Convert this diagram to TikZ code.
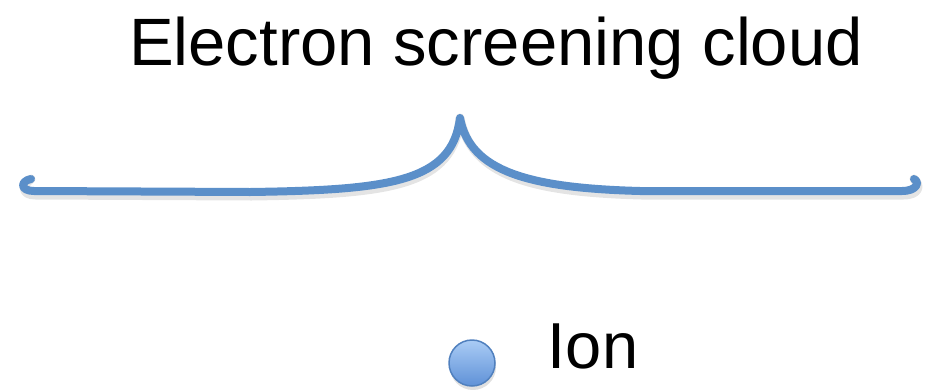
\documentclass[tikz,border=0pt]{standalone}
\usepackage{fontspec}
\setmainfont{Liberation Sans}
\definecolor{bracecol}{RGB}{91,143,201}
\definecolor{balltop}{RGB}{170,204,245}
\definecolor{ballbot}{RGB}{95,145,215}
\definecolor{ballrim}{RGB}{80,128,190}
\begin{document}
\begin{tikzpicture}[x=1pt,y=-1pt,
  bracestyle/.style={draw=bracecol,line width=8pt,line cap=round,line join=round},
  shadowstyle/.style={draw=black!35,line width=9pt,line cap=round,line join=round,opacity=0.3},
  lbl/.style={font=\fontsize{67}{70}\selectfont,inner sep=0pt,anchor=base}]
\useasboundingbox (0,0) rectangle (927,389);
\coordinate (lt) at (31,179);
\coordinate (peak) at (460,118);
\coordinate (rt) at (914,179);
% shadow
\begin{scope}[shift={(1.5,4)}]
\draw[shadowstyle] (lt) .. controls (20,181) and (20,191) .. (34,191)
  -- (250,192) .. controls (390,190) and (452,182) .. (peak)
  .. controls (470,172) and (530,188) .. (640,191)
  -- (902,191) .. controls (917,191) and (920,182) .. (rt);
\end{scope}
\draw[bracestyle] (lt) .. controls (20,181) and (20,191) .. (34,191)
  -- (250,192) .. controls (390,190) and (452,182) .. (peak)
  .. controls (470,172) and (530,188) .. (640,191)
  -- (902,191) .. controls (917,191) and (920,182) .. (rt);
\node[lbl] (title) at (496,65) {Electron screening cloud};
\fill[black!30,opacity=0.4] (473,367) circle (23);
\node[circle,minimum size=46pt,inner sep=0pt,draw=ballrim,line width=1.5pt,
  top color=balltop,bottom color=ballbot] (ion) at (472,363) {};
\node[lbl,font=\fontsize{65}{70}\selectfont] (ionlabel) at (593,368) {Ion};
\end{tikzpicture}
\end{document}
